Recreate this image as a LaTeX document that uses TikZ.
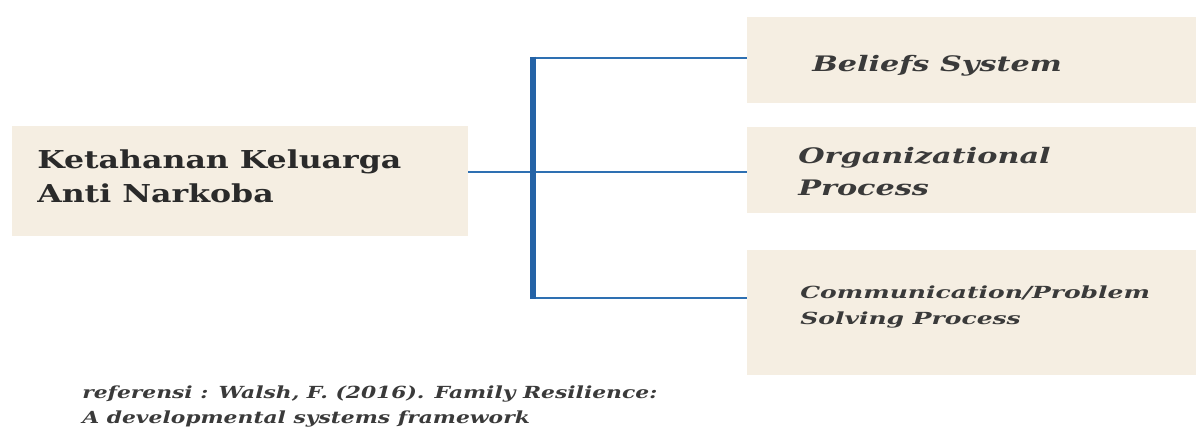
\documentclass[tikz,border=0pt]{standalone}
\usepackage{fontspec}
\newfontfamily\leftfont{DejaVu Serif}[FakeStretch=1.28]
\newfontfamily\midfont{DejaVu Serif}[FakeStretch=1.42]
\newfontfamily\commfont{DejaVu Serif}[FakeStretch=1.50]
\newfontfamily\reffont{DejaVu Serif}[FakeStretch=1.31]
\definecolor{boxfill}{HTML}{F5EEE2}
\definecolor{txt}{HTML}{2A2A2A}
\definecolor{itxt}{HTML}{3A3A3A}
\definecolor{linec}{HTML}{2E70B2}
\definecolor{barc}{HTML}{2563A6}
\tikzset{
  box/.style={fill=boxfill, draw=none, inner sep=0pt, rectangle},
  lbl/.style={anchor=base west, inner sep=0pt, text=txt},
  ilbl/.style={anchor=base west, inner sep=0pt, text=itxt},
  conn/.style={draw=linec, line width=2pt},
  bar/.style={draw=barc, line width=4.5pt},
}
\begin{document}
\begin{tikzpicture}[x=0.75pt, y=-0.75pt]
\useasboundingbox (0,0) rectangle (1199,430);
% boxes
\node[box, minimum width=342pt, minimum height=82.5pt] (L) at (240,181) {};
\node[box, minimum width=336.75pt, minimum height=64.5pt] (R1) at (971.5,60) {};
\node[box, minimum width=336.75pt, minimum height=64.5pt] (R2) at (971.5,170) {};
\node[box, minimum width=336.75pt, minimum height=93.75pt] (R3) at (971.5,312.5) {};
% labels
\node[lbl, font=\leftfont\bfseries\fontsize{18.5pt}{22pt}\selectfont] (La) at (37,168) {Ketahanan Keluarga};
\node[lbl, font=\leftfont\bfseries\fontsize{18.5pt}{22pt}\selectfont] (Lb) at (37,202) {Anti Narkoba};
\node[ilbl, font=\midfont\bfseries\itshape\fontsize{16pt}{19pt}\selectfont] (R1a) at (812,71) {Beliefs System};
\node[ilbl, font=\midfont\bfseries\itshape\fontsize{16pt}{19pt}\selectfont] (R2a) at (798,163) {Organizational};
\node[ilbl, font=\midfont\bfseries\itshape\fontsize{16pt}{19pt}\selectfont] (R2b) at (798,195) {Process};
\node[ilbl, font=\commfont\bfseries\itshape\fontsize{12.5pt}{15pt}\selectfont] (R3a) at (800,298) {Communication/Problem};
\node[ilbl, font=\commfont\bfseries\itshape\fontsize{12.5pt}{15pt}\selectfont] (R3b) at (800,324) {Solving Process};
\node[ilbl, font=\reffont\bfseries\itshape\fontsize{12.5pt}{15pt}\selectfont] (Ra) at (82,398) {referensi : Walsh, F. (2016). Family Resilience:};
\node[ilbl, font=\reffont\bfseries\itshape\fontsize{12.5pt}{15pt}\selectfont] (Rb) at (82,423) {A developmental systems framework};
% connectors
\coordinate (top) at (533,58);
\coordinate (mid) at (533,172);
\coordinate (bot) at (533,298);
\draw[conn] (L.east |- mid) -- (mid);
\draw[conn] (top) -- (R1.west |- top);
\draw[conn] (mid) -- (R2.west |- mid);
\draw[conn] (bot) -- (R3.west |- bot);
\draw[bar] ([yshift=1pt]top) -- ([yshift=-1pt]bot);
\end{tikzpicture}
\end{document}
